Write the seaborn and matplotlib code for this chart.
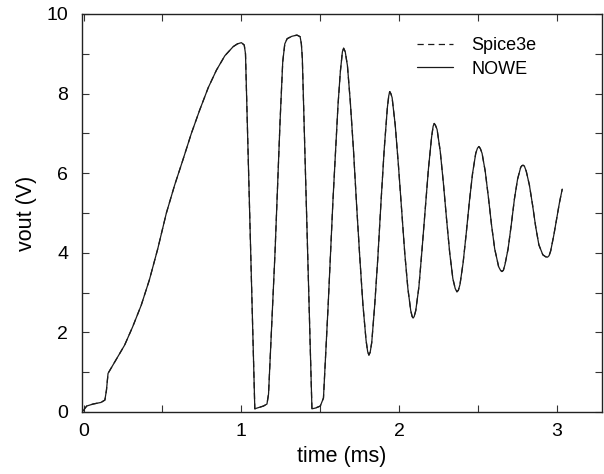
import numpy as np
import pandas as pd
import seaborn as sns
import matplotlib
matplotlib.use("Agg")
import matplotlib.pyplot as plt
from matplotlib.ticker import MultipleLocator

# waveform (time in ms, vout in V)
time_ms = [
    0.000, 0.006, 0.020, 0.060, 0.110, 0.135, 0.145, 0.155, 0.205, 0.260,
    0.311, 0.365, 0.417, 0.470, 0.524, 0.577, 0.629, 0.683, 0.736, 0.790,
    0.842, 0.895, 0.948, 0.975, 1.000, 1.018, 1.026, 1.085, 1.100, 1.140,
    1.162, 1.172, 1.190, 1.213, 1.232, 1.245, 1.262, 1.275, 1.290, 1.320,
    1.352, 1.372, 1.380, 1.386, 1.447, 1.470, 1.500, 1.520, 1.535, 1.550,
    1.565, 1.580, 1.596, 1.612, 1.627, 1.640, 1.648, 1.658, 1.672, 1.690,
    1.710, 1.730, 1.750, 1.770, 1.790, 1.800, 1.808, 1.816, 1.826, 1.845,
    1.865, 1.885, 1.905, 1.925, 1.934, 1.940, 1.947, 1.955, 1.975, 1.995,
    2.015, 2.035, 2.055, 2.073, 2.082, 2.088, 2.095, 2.105, 2.125, 2.145,
    2.165, 2.185, 2.205, 2.215, 2.222, 2.230, 2.240, 2.260, 2.280, 2.300,
    2.320, 2.340, 2.355, 2.366, 2.375, 2.385, 2.405, 2.425, 2.445, 2.465,
    2.485, 2.496, 2.505, 2.514, 2.525, 2.545, 2.565, 2.585, 2.605, 2.630,
    2.642, 2.651, 2.660, 2.670, 2.690, 2.710, 2.730, 2.750, 2.770, 2.778,
    2.785, 2.793, 2.805, 2.825, 2.845, 2.865, 2.885, 2.910, 2.928, 2.940,
    2.950, 2.960, 2.980, 3.000, 3.015, 3.033,
]
vout = [
    0.03, 0.08, 0.15, 0.20, 0.24, 0.30, 0.55, 0.97, 1.31, 1.68,
    2.14, 2.68, 3.32, 4.10, 4.99, 5.70, 6.33, 7.00, 7.59, 8.15,
    8.59, 8.95, 9.18, 9.25, 9.28, 9.22, 9.00, 0.08, 0.10, 0.15,
    0.20, 0.45, 2.00, 4.00, 6.00, 7.30, 8.80, 9.25, 9.38, 9.44,
    9.47, 9.43, 9.25, 8.90, 0.08, 0.10, 0.15, 0.35, 1.50, 2.70,
    4.00, 5.30, 6.50, 7.70, 8.55, 9.05, 9.14, 9.05, 8.70, 7.80,
    6.60, 5.20, 3.90, 2.70, 1.80, 1.52, 1.43, 1.50, 1.75, 2.70,
    3.90, 5.30, 6.60, 7.65, 7.95, 8.05, 8.00, 7.90, 7.20, 6.20,
    5.10, 4.00, 3.10, 2.55, 2.40, 2.36, 2.40, 2.55, 3.15, 4.10,
    5.10, 6.10, 6.90, 7.18, 7.25, 7.20, 7.10, 6.55, 5.75, 4.85,
    4.00, 3.35, 3.10, 3.02, 3.06, 3.20, 3.75, 4.50, 5.30, 6.00,
    6.50, 6.63, 6.67, 6.62, 6.50, 6.05, 5.40, 4.70, 4.10, 3.65,
    3.56, 3.53, 3.56, 3.70, 4.10, 4.70, 5.35, 5.85, 6.15, 6.19,
    6.20, 6.18, 6.05, 5.70, 5.20, 4.65, 4.20, 3.95, 3.90, 3.89,
    3.93, 4.05, 4.45, 4.90, 5.25, 5.60,
]
models = ["Spice3e", "NOWE"]
x_ticks = [0, 1, 2, 3]
y_ticks = [0, 2, 4, 6, 8, 10]

# both simulators give the same trace in the figure
df = pd.concat(
    [pd.DataFrame({"time": time_ms, "vout": vout, "model": m}) for m in models],
    ignore_index=True,
)

sns.set_theme(style="ticks")
plt.rcParams["font.family"] = ["Liberation Sans", "DejaVu Sans"]
plt.rcParams["text.color"] = "black"
plt.rcParams["axes.labelcolor"] = "black"
plt.rcParams["xtick.color"] = "black"
plt.rcParams["ytick.color"] = "black"

fig, ax = plt.subplots(figsize=(6.04, 4.74), dpi=100)
ax.set_position([82 / 604, 62 / 474, 520 / 604, 398 / 474])

sns.lineplot(data=df, x="time", y="vout", style="model", style_order=models,
             dashes={"Spice3e": (5, 3.5), "NOWE": ""}, color="#1a1a1a",
             linewidth=0.9, estimator=None, sort=False, ax=ax)

ax.set_xlim(-0.01, 3.285)
ax.set_ylim(0, 10)
ax.set_xticks(x_ticks)
ax.set_yticks(y_ticks)
ax.xaxis.set_minor_locator(MultipleLocator(0.5))
ax.yaxis.set_minor_locator(MultipleLocator(1))
ax.tick_params(which="both", direction="in", top=True, right=True,
               length=5, width=0.8, color="#333333")
ax.tick_params(axis="x", which="major", labelsize=14, pad=8)
ax.tick_params(axis="y", which="major", labelsize=14, pad=10)
for s in ax.spines.values():
    s.set_linewidth(1.0)
    s.set_color("#222222")

ax.set_xlabel("time (ms)", fontsize=15.5, labelpad=4)
ax.set_ylabel("vout (V)", fontsize=15.5, labelpad=7)

handles, labels = ax.get_legend_handles_labels()
ax.legend(handles, labels, loc="upper right", bbox_to_anchor=(0.905, 0.982),
          frameon=False, fontsize=13, handlelength=2.0, handletextpad=1.0,
          labelspacing=0.35)

fig.savefig("out.png", dpi=100)
